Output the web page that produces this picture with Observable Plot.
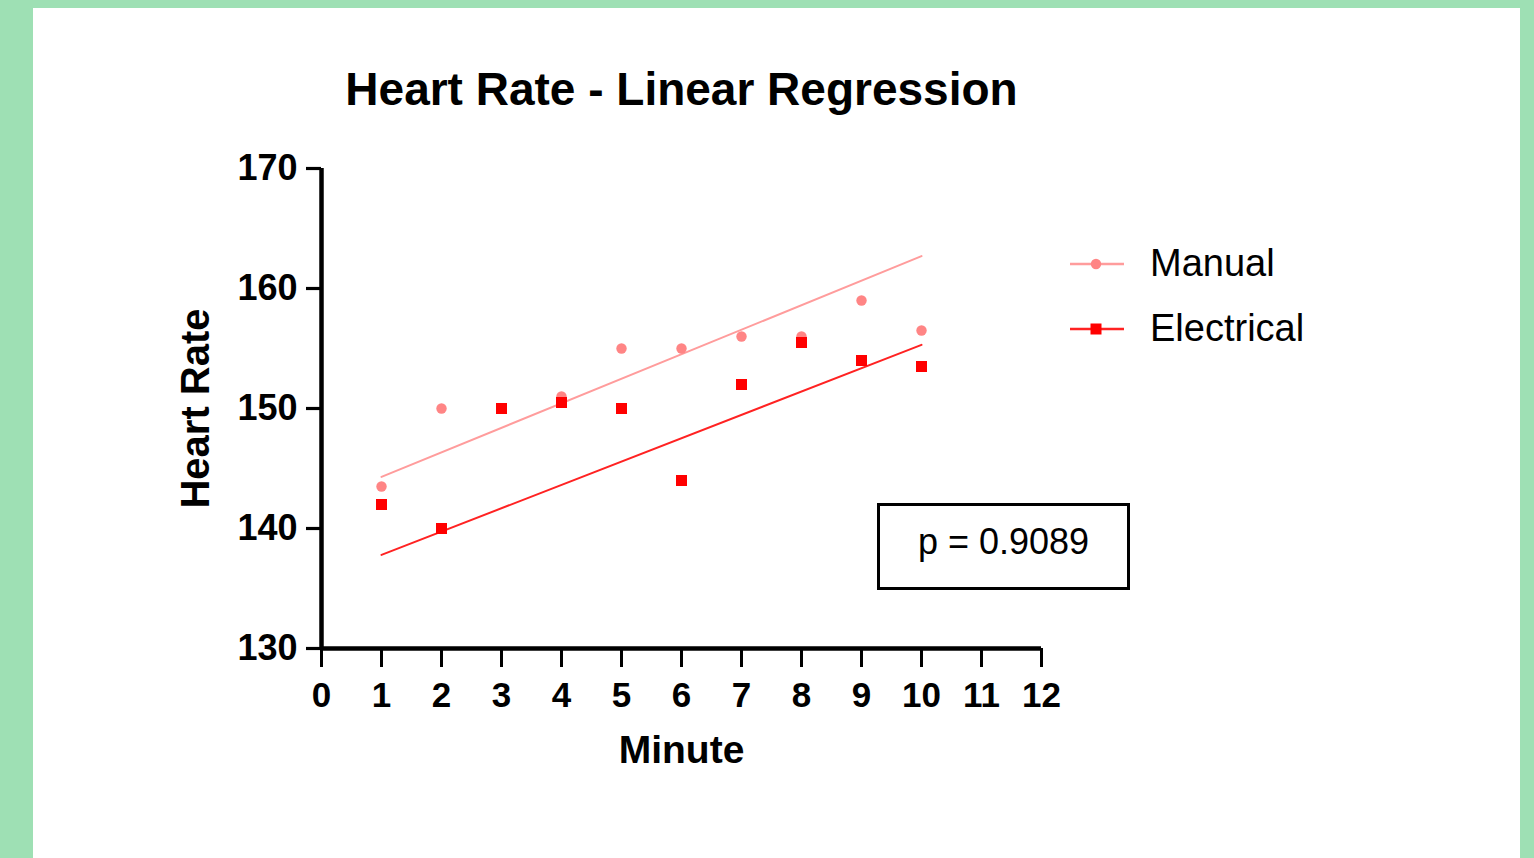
<!DOCTYPE html>
<html>
<head>
<meta charset="utf-8">
<script src="https://cdn.jsdelivr.net/npm/d3@7"></script>
<script src="https://cdn.jsdelivr.net/npm/@observablehq/plot@0.6"></script>
<style>
  html, body { margin: 0; padding: 0; width: 1534px; height: 858px; overflow: hidden; background: #9ee0b4; }
  #panel { position: absolute; left: 33px; top: 8px; width: 1487px; height: 850px; background: #ffffff; font-family: "Liberation Sans", Arial, sans-serif; }
  #title { position: absolute; left: 0; width: 1297px; top: 58px; text-align: center; font-size: 46px; line-height: 46px; font-weight: bold; color: #000; white-space: nowrap; }
  #chart { position: absolute; left: 0; top: 0; }
  #legend { position: absolute; left: 1037px; top: 223px; font-size: 38px; color: #000; }
  .lg { display: flex; align-items: center; height: 65px; }
  .lg svg { margin-right: 26px; }
  #pbox { position: absolute; left: 844px; top: 495px; width: 247px; height: 71px; padding-bottom: 10px; border: 3.5px solid #000; display: flex; align-items: center; justify-content: center; font-size: 36px; color: #000; }
</style>
</head>
<body>
<div id="panel">
  <div id="title">Heart Rate - Linear Regression</div>
  <div id="chart"></div>
  <div id="legend"></div>
  <div id="pbox"></div>
</div>
<script>
// ---- data ----
const minutes = [1, 2, 3, 4, 5, 6, 7, 8, 9, 10];
const manualHR = [143.5, 150, 150, 151, 155, 155, 156, 156, 159, 156.5];
const electricalHR = [142, 140, 150, 150.5, 150, 144, 152, 155.5, 154, 153.5];
const fitMinutes = [1, 10];
const manualFitHR = [144.3, 162.7];
const electricalFitHR = [137.8, 155.3];
const xTicks = [0, 1, 2, 3, 4, 5, 6, 7, 8, 9, 10, 11, 12];
const yTicks = [130, 140, 150, 160, 170];
const seriesNames = ["Manual", "Electrical"];
const pText = "p = 0.9089";

const manualColor = "#ff8585";
const manualLine = "#ff9c9c";
const elecColor = "#ff0000";
const elecLine = "#ff2222";

const chart = Plot.plot({
  width: 1487,
  height: 850,
  marginLeft: 288,
  marginRight: 479,
  marginTop: 160,
  marginBottom: 210,
  style: { fontFamily: "Liberation Sans, Arial, sans-serif", color: "#000", background: "transparent", overflow: "visible" },
  x: { domain: [0, 12] },
  y: { domain: [130, 170] },
  marks: [
    Plot.line(fitMinutes, { x: fitMinutes, y: manualFitHR, stroke: manualLine, strokeWidth: 2 }),
    Plot.line(fitMinutes, { x: fitMinutes, y: electricalFitHR, stroke: elecLine, strokeWidth: 2 }),
    Plot.dot(minutes, { x: minutes, y: manualHR, symbol: "circle", r: 5.2, fill: manualColor }),
    Plot.dot(minutes, { x: minutes, y: electricalHR, symbol: "square", r: 6.2, fill: elecColor }),
    Plot.axisY({ ticks: yTicks, tickSize: 15, tickPadding: 9, strokeWidth: 3.2, fontSize: 36, fontWeight: "bold", label: null }),
    Plot.axisX({ ticks: xTicks, tickSize: 19, tickPadding: 15, strokeWidth: 3, fontSize: 35, fontWeight: "bold", label: null }),
    Plot.axisY({ ticks: [], tickSize: 0, label: "Heart Rate", labelAnchor: "center", labelOffset: 141, labelArrow: "none", fontSize: 40, fontWeight: "bold" }),
    Plot.axisX({ ticks: [], tickSize: 0, label: "Minute", labelAnchor: "center", labelOffset: 114, labelArrow: "none", fontSize: 39, fontWeight: "bold" }),
    Plot.ruleX([0], { y1: 130, y2: 170, stroke: "#000", strokeWidth: 4.5 }),
    Plot.ruleY([130], { x1: 0, x2: 12, stroke: "#000", strokeWidth: 4.5 })
  ]
});
document.getElementById("chart").appendChild(chart);

// legend
const legend = document.getElementById("legend");
const styles = [
  { line: manualLine, fill: manualColor, sym: "circle" },
  { line: elecLine, fill: elecColor, sym: "square" }
];
seriesNames.forEach((name, i) => {
  const s = styles[i];
  const row = document.createElement("div");
  row.className = "lg";
  const marker = s.sym === "circle"
    ? `<circle cx="26" cy="10" r="5.2" fill="${s.fill}"/>`
    : `<rect x="20.5" y="4.5" width="11" height="11" fill="${s.fill}"/>`;
  row.innerHTML = `<svg width="54" height="20"><line x1="0" x2="54" y1="10" y2="10" stroke="${s.line}" stroke-width="2.5"/>${marker}</svg><span>${name}</span>`;
  legend.appendChild(row);
});
document.getElementById("pbox").textContent = pText;
</script>
</body>
</html>
